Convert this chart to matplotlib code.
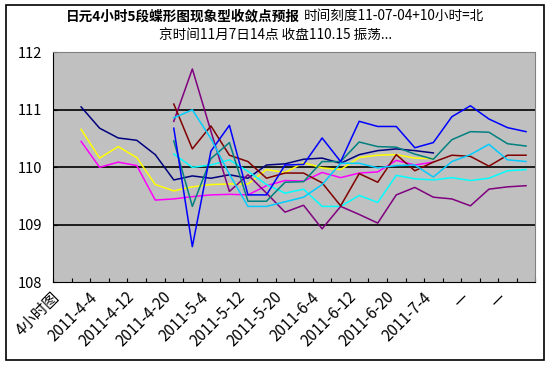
import numpy as np
import matplotlib
matplotlib.use("Agg")
import matplotlib.pyplot as plt
import matplotlib.patches as mpatches
from matplotlib.transforms import ScaledTranslation

plt.rcParams['font.family'] = ['Noto Sans CJK SC', 'DejaVu Sans']

nan = np.nan

# x categories (26 slots), labels every second slot
tick_labels = ["4小时图", "2011-4-4", "2011-4-12", "2011-4-20", "2011-5-4", "2011-5-12",
               "2011-5-20", "2011-6-4", "2011-6-12", "2011-6-20", "2011-7-4", "—", "—"]
n_cats = 26

navy = [nan, 111.05, 110.68, 110.51, 110.47, 110.22, 109.78, 109.85, 109.81, 109.87, 109.81,
        110.04, 110.06, 110.14, 110.16, 110.07, 110.22, 110.29, 110.32, 110.29, 110.25,
        nan, nan, nan, nan, nan]
magenta = [nan, 110.45, 110.00, 110.09, 110.03, 109.43, 109.45, 109.49, 109.52, 109.53, 109.52,
           109.68, 109.77, 109.76, 109.91, 109.82, 109.90, 109.92, 110.12, 110.04, 110.09,
           nan, nan, nan, nan, nan]
yellow = [nan, 110.66, 110.16, 110.36, 110.17, 109.70, 109.59, 109.66, 109.70, 109.71, 109.71,
          109.96, 109.91, 110.08, 109.99, 109.96, 110.17, 110.21, 110.22, 110.16, 110.15,
          nan, nan, nan, nan, nan]
cyan = [nan, nan, nan, nan, nan, nan, 110.23, 110.00, 110.04, 110.13, 109.93,
        109.70, 109.55, 109.62, 109.32, 109.32, 109.51, 109.39, 109.86, 109.80, 109.78,
        109.82, 109.77, 109.81, 109.94, 109.96]
purple = [nan, nan, nan, nan, nan, nan, 110.80, 111.71, 110.63, 109.58, 109.87,
          109.55, 109.22, 109.34, 108.93, 109.32, 109.18, 109.03, 109.52, 109.65, 109.48,
          109.45, 109.33, 109.62, 109.66, 109.68]
darkred = [nan, nan, nan, nan, nan, nan, 111.10, 110.32, 110.72, 110.21, 110.10,
           109.81, 109.90, 109.90, 109.73, 109.33, 109.89, 109.74, 110.22, 109.94, 110.09,
           110.21, 110.19, 110.02, 110.21, 110.21]
teal = [nan, nan, nan, nan, nan, nan, 110.46, 109.32, 110.15, 110.43, 109.41,
        109.41, 109.74, 109.75, 110.10, 110.10, 110.44, 110.36, 110.35, 110.23, 110.14,
        110.48, 110.62, 110.61, 110.41, 110.37]
blue = [nan, nan, nan, nan, nan, nan, 110.68, 108.62, 110.28, 110.73, 109.52,
        109.52, 110.04, 110.05, 110.51, 110.10, 110.80, 110.71, 110.71, 110.34, 110.43,
        110.88, 111.07, 110.84, 110.69, 110.62]
skyblue = [nan, nan, nan, nan, nan, nan, 110.86, 111.00, 110.50, 109.88, 109.32,
           109.32, 109.40, 109.48, 109.70, 110.07, 110.07, 109.99, 110.03, 110.04, 109.83,
           110.10, 110.22, 110.40, 110.13, 110.10]

series = [
    (navy, "#000080"),
    (magenta, "#FF00FF"),
    (yellow, "#FFFF00"),
    (cyan, "#00FFFF"),
    (purple, "#800080"),
    (darkred, "#800000"),
    (teal, "#008080"),
    (blue, "#0000FF"),
    (skyblue, "#00CCFF"),
]

fig = plt.figure(figsize=(5.51, 3.66), dpi=100)
fig.patch.set_facecolor("white")
ax = fig.add_axes([53.3 / 551, 1 - 282.3 / 366, 482 / 551, 230 / 366])
ax.set_facecolor("#C0C0C0")

x = np.arange(n_cats)
for vals, col in series:
    ax.plot(x, vals, color=col, linewidth=1.1)

ax.set_xlim(-0.5, n_cats - 0.5)
ax.set_ylim(108, 112)
ax.set_yticks([108, 109, 110, 111, 112])
ax.yaxis.grid(True, color="black", linewidth=1.2)
ax.set_axisbelow(True)
gl = ax.yaxis.get_gridlines()
gl[0].set_visible(False)
gl[-1].set_visible(False)

ax.set_xticks(np.arange(-0.5, n_cats, 1))
ax.set_xticklabels([])
ax.set_xticks(np.arange(0, 2 * len(tick_labels), 2), minor=True)
ax.set_xticklabels(tick_labels, minor=True, rotation=45, ha="right", va="center",
                   rotation_mode="anchor", fontsize=11)
ax.tick_params(axis="x", which="major", direction="in", length=3, color="black")
ax.tick_params(axis="x", which="minor", length=0, pad=9)
ax.tick_params(axis="y", direction="in", length=3, labelsize=10.5, pad=8)

# nudge the rotated labels a little to the left, as in the original
shift = ScaledTranslation(-5 / 100, 0, fig.dpi_scale_trans)
for lbl in ax.get_xticklabels(minor=True):
    lbl.set_transform(lbl.get_transform() + shift)

for s in ["top", "right"]:
    ax.spines[s].set_color("#808080")
for s in ["left", "bottom"]:
    ax.spines[s].set_color("black")

# title: bold part followed by plain part, second line centred
fig.text(300 / 551, 1 - 16 / 366, "日元4小时5段蝶形图现象型收敛点预报", ha="right", va="center",
         fontsize=9.8, fontweight="bold")
fig.text(304 / 551, 1 - 16 / 366, "时间刻度11-07-04+10小时=北", ha="left", va="center",
         fontsize=9.8)
fig.text(276 / 551, 1 - 35 / 366, "京时间11月7日14点 收盘110.15 振荡...", ha="center", va="center",
         fontsize=9.8)

border = mpatches.Rectangle((5.5 / 551, 6 / 366), 538.5 / 551, 355 / 366, transform=fig.transFigure,
                            fill=False, edgecolor="black", linewidth=1.2)
fig.patches.append(border)

fig.savefig("out.png", dpi=100)
